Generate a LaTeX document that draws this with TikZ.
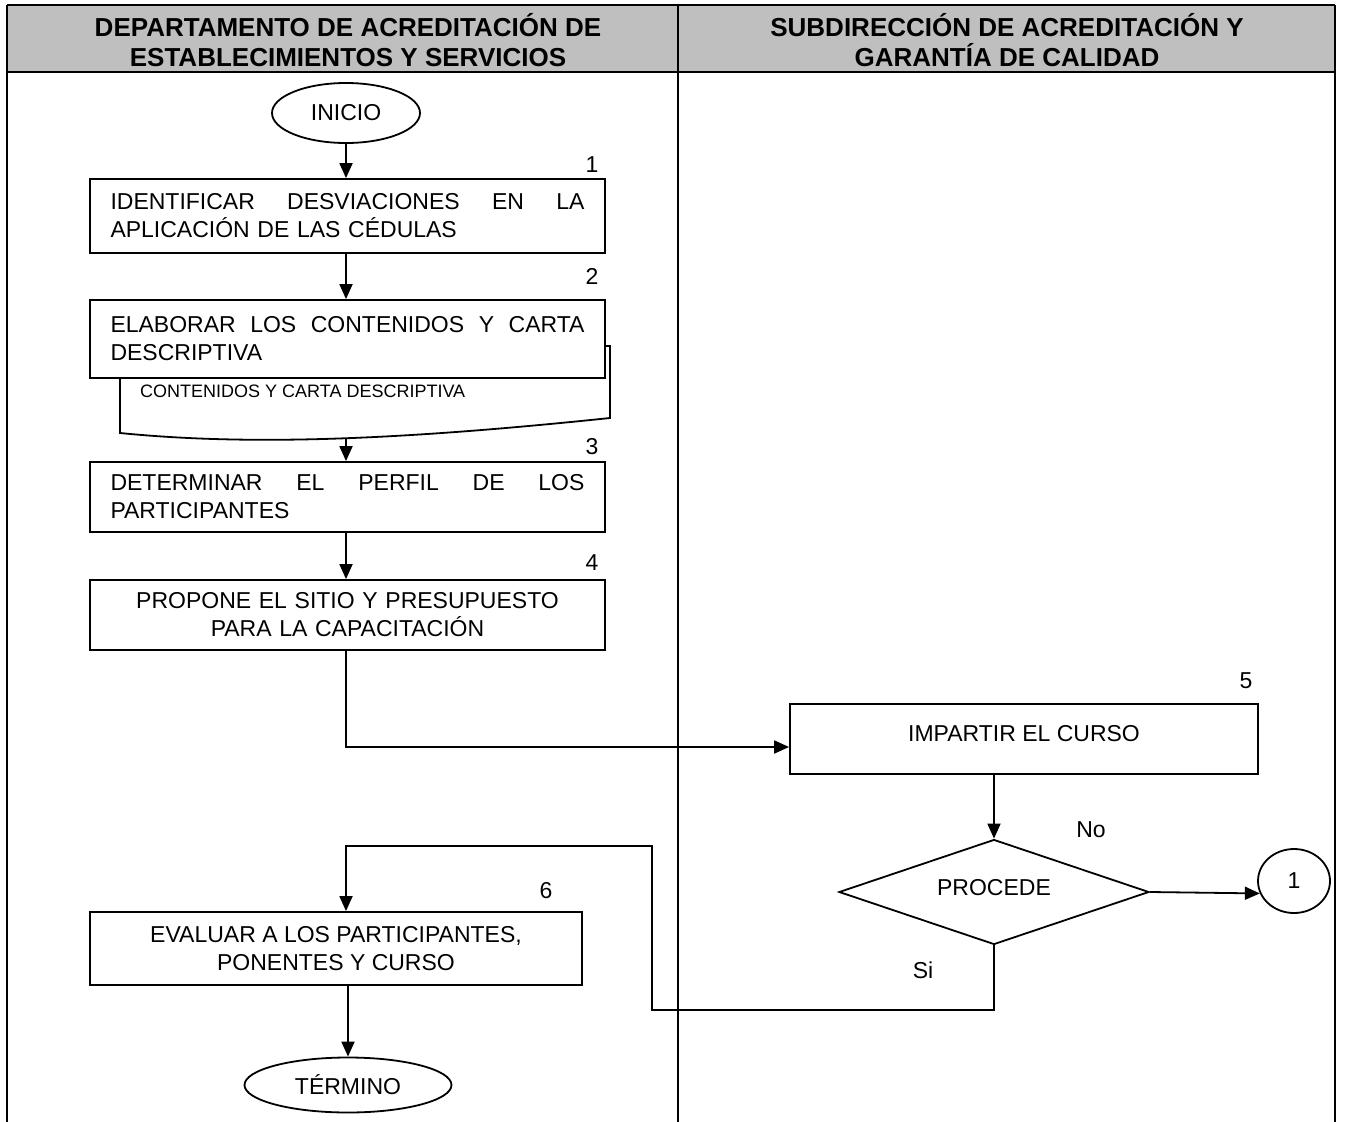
\documentclass[tikz,border=0pt]{standalone}
\usepackage{fontspec}
\setmainfont{Liberation Sans}
\usetikzlibrary{shapes.geometric,arrows.meta}

\begin{document}
\begin{tikzpicture}[x=1pt,y=-1pt,
  every node/.style={font=\fontsize{23}{28}\selectfont},
  headtext/.style={font=\fontsize{26}{30}\selectfont\bfseries,align=center},
  rule/.style={line width=2pt},
  flow/.style={line width=1.8pt},
  arr/.style={flow,-{Triangle[length=15pt,width=13pt]}},
  stepbox/.style={draw,flow,fill=white,rectangle,inner xsep=20.5pt,inner ysep=0pt,
    text width=474pt,align=left},
  terminal/.style={draw,flow,ellipse,inner sep=0pt},
  num/.style={inner sep=0pt},
  small/.style={font=\fontsize{18}{22}\selectfont,inner sep=0pt}
]
\useasboundingbox (0,0) rectangle (1345,1122);

% swimlane table
\fill[gray!50] (7,5) rectangle (1335,72);
\draw[rule] (7,5) -- (1335,5);
\draw[rule] (7,72) -- (1335,72);
\draw[rule] (7,5) -- (7,1122);
\draw[rule] (678,5) -- (678,1122);
\draw[rule] (1335,5) -- (1335,1122);
\node[headtext] (h1) at (348,40) {DEPARTAMENTO DE ACREDITACIÓN DE\\ESTABLECIMIENTOS Y SERVICIOS};
\node[headtext] (h2) at (1007,40) {SUBDIRECCIÓN DE ACREDITACIÓN Y\\GARANTÍA DE CALIDAD};

% start
\node[terminal,minimum width=148pt,minimum height=60pt] (ini) at (346,113) {INICIO};

% step 1
\node[stepbox,minimum height=74pt] (b1) at (347.5,216)
  {IDENTIFICAR\hfill DESVIACIONES\hfill EN\hfill LA\\APLICACIÓN DE LAS CÉDULAS};
\node[num] (n1) at (592,165) {1};

% document produced in step 2
\coordinate (dtl) at (120,346);
\coordinate (dtr) at (610,346);
\coordinate (dbr) at (610,418);
\coordinate (dbl) at (120,433);
\coordinate (dbot) at (346,438);
\draw[flow,fill=white] (dtl) -- (dtr) -- (dbr)
  .. controls (400,440) and (250,446) .. (dbl) -- cycle;
\node[small,anchor=west] (doc) at (140,391) {CONTENIDOS Y CARTA DESCRIPTIVA};

% step 2
\node[stepbox,minimum height=78pt] (b2) at (347.5,339)
  {ELABORAR\hfill LOS\hfill CONTENIDOS\hfill Y\hfill CARTA\\DESCRIPTIVA};
\node[num] (n2) at (592,276) {2};

% step 3
\node[stepbox,minimum height=70pt] (b3) at (347.5,497)
  {DETERMINAR\hfill EL\hfill PERFIL\hfill DE\hfill LOS\\PARTICIPANTES};
\node[num] (n3) at (592,447) {3};

% step 4
\node[stepbox,align=center,minimum height=70pt] (b4) at (347.5,615)
  {PROPONE EL SITIO Y PRESUPUESTO\\PARA LA CAPACITACIÓN};
\node[num] (n4) at (592,563) {4};

% step 5
\node[draw,flow,fill=white,minimum width=468pt,minimum height=70pt,inner sep=0pt] (b5) at (1024,739)
  {\raisebox{11pt}{IMPARTIR EL CURSO}};
\node[num] (n5) at (1246,681) {5};

% decision
\node[draw,flow,diamond,aspect=2.95,minimum width=310pt,minimum height=105pt,inner sep=0pt] (dia) at (994,892)
  {\raisebox{9pt}{PROCEDE}};
\node[num] (lno) at (1091,830) {No};
\node[num] (lsi) at (923,970) {Si};

% off-page connector
\node[draw,flow,ellipse,minimum width=72pt,minimum height=64pt,inner sep=0pt] (c1) at (1294,881) {1};

% step 6
\node[draw,flow,fill=white,minimum width=492pt,minimum height=73pt,inner sep=0pt,align=center] (b6) at (336,948.5)
  {EVALUAR A LOS PARTICIPANTES,\\PONENTES Y CURSO};
\node[num] (n6) at (546,891) {6};

% end
\node[terminal,minimum width=207pt,minimum height=55pt] (fin) at (348,1085) {TÉRMINO};

% connectors
\coordinate (j45) at (346,747);
\coordinate (lpA) at (652,1010);
\coordinate (lpB) at (346,846);

\draw[arr] (ini.south) -- (ini.south |- b1.north);
\draw[arr] (b1.south -| ini.south) -- (b2.north -| ini.south);
\draw[arr] (dbot) -- (dbot |- b3.north);
\draw[arr] (b3.south -| ini.south) -- (b4.north -| ini.south);
\draw[arr] (b4.south -| j45) -- (j45) -- (j45 -| b5.west);
\draw[arr] (b5.south -| dia.north) -- (dia.north);
\draw[arr] (dia.east) -- (c1.200);
\draw[arr] (dia.south) |- (lpA) |- (lpB) -- (lpB |- b6.north);
\draw[arr] (b6.south -| fin.north) -- (fin.north);
\end{tikzpicture}
\end{document}
